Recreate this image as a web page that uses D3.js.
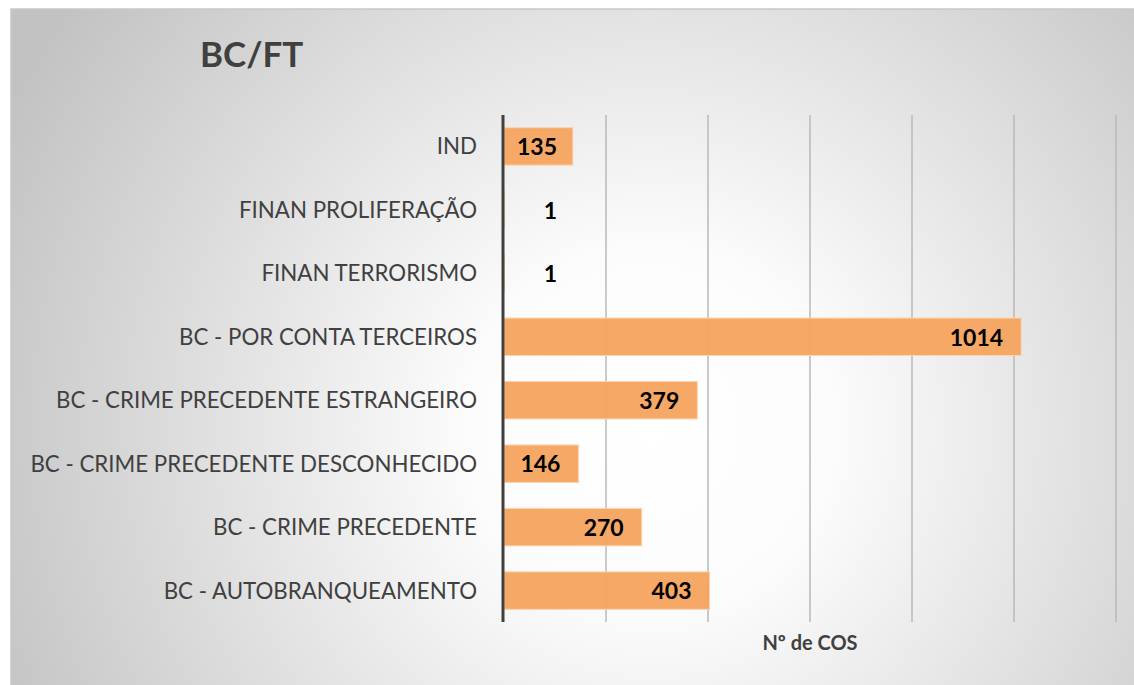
<!DOCTYPE html>
<html>
<head>
<meta charset="utf-8">
<script src="https://cdn.jsdelivr.net/npm/d3@7"></script>
<style>
  body { margin: 0; background: #fff; }
  svg { display: block; }
</style>
</head>
<body>
<div id="chart"></div>
<script>
// Chart data, top to bottom
const categories = [
    'IND',
    'FINAN PROLIFERAÇÃO',
    'FINAN TERRORISMO',
    'BC - POR CONTA TERCEIROS',
    'BC - CRIME PRECEDENTE ESTRANGEIRO',
    'BC - CRIME PRECEDENTE DESCONHECIDO',
    'BC - CRIME PRECEDENTE',
    'BC - AUTOBRANQUEAMENTO'
]
const values = [135, 1, 1, 1014, 379, 146, 270, 403]
const xTicks = [0, 200, 400, 600, 800, 1000, 1200]
const chartTitle = 'BC/FT'
const axisTitle = 'Nº de COS'

const width = 1134
const height = 685
const margin = {top: 115, right: 18, bottom: 63, left: 504}

const svg = d3.select('#chart')
    .append('svg')
    .attr('width', width)
    .attr('height', height)

// Radial background like the office chart style
const defs = svg.append('defs')
const grad = defs.append('radialGradient')
    .attr('id', 'bg')
    .attr('gradientUnits', 'userSpaceOnUse')
    .attr('cx', 650)
    .attr('cy', 430)
    .attr('r', 720)
grad.append('stop').attr('offset', '0%').attr('stop-color', '#ffffff')
grad.append('stop').attr('offset', '25%').attr('stop-color', '#fcfcfc')
grad.append('stop').attr('offset', '100%').attr('stop-color', '#c2c2c2')

svg.append('rect')
    .attr('x', 11)
    .attr('y', 9)
    .attr('width', width + 10)
    .attr('height', height + 10)
    .attr('fill', 'url(#bg)')
    .attr('stroke', '#c8c8c8')
    .attr('stroke-width', 1.5)

const x = d3.scaleLinear()
    .domain([0, 1200])
    .range([margin.left, width - margin.right])

const y = d3.scaleBand()
    .domain(categories)
    .range([margin.top, height - margin.bottom])
    .paddingInner(0.41)
    .paddingOuter(0.2)

// Vertical gridlines
svg.append('g')
    .selectAll('line')
    .data(xTicks.slice(1))
    .join('line')
    .attr('x1', d => x(d))
    .attr('x2', d => x(d))
    .attr('y1', margin.top)
    .attr('y2', height - margin.bottom)
    .attr('stroke', '#b8b8b8')
    .attr('stroke-width', 1.5)

// Bars
svg.append('g')
    .selectAll('rect')
    .data(values)
    .join('rect')
    .attr('x', x(0))
    .attr('y', (d, i) => y(categories[i]))
    .attr('width', d => x(d) - x(0))
    .attr('height', y.bandwidth())
    .attr('fill', '#f6a460')
    .attr('fill-opacity', 0.96)
    .attr('stroke', '#fbd3ae')
    .attr('stroke-width', 1)

// Value labels, inside end
svg.append('g')
    .selectAll('text')
    .data(values)
    .join('text')
    .attr('x', d => Math.max(x(d) - 18, 557))
    .attr('y', (d, i) => y(categories[i]) + y.bandwidth() / 2)
    .attr('dy', '0.38em')
    .attr('text-anchor', 'end')
    .attr('font-family', 'Lato, "Open Sans", sans-serif')
    .attr('font-weight', 'bold')
    .attr('font-size', 23)
    .attr('fill', '#000')
    .text(d => d)

// Category axis line
svg.append('line')
    .attr('x1', x(0) - 1)
    .attr('x2', x(0) - 1)
    .attr('y1', margin.top)
    .attr('y2', height - margin.bottom)
    .attr('stroke', '#404040')
    .attr('stroke-width', 3)

// Category labels
svg.append('g')
    .selectAll('text')
    .data(categories)
    .join('text')
    .attr('x', 477)
    .attr('y', d => y(d) + y.bandwidth() / 2)
    .attr('dy', '0.36em')
    .attr('text-anchor', 'end')
    .attr('font-family', 'Lato, "Open Sans", sans-serif')
    .attr('font-size', 22.3)
    .attr('fill', '#404040')
    .text(d => d)

// Titles
svg.append('text')
    .attr('x', 200)
    .attr('y', 67)
    .attr('font-family', 'Lato, "Open Sans", sans-serif')
    .attr('font-weight', 'bold')
    .attr('font-size', 35)
    .attr('fill', '#404040')
    .text(chartTitle)

svg.append('text')
    .attr('x', x(600))
    .attr('y', 650)
    .attr('text-anchor', 'middle')
    .attr('font-family', 'Lato, "Open Sans", sans-serif')
    .attr('font-weight', 'bold')
    .attr('font-size', 20)
    .attr('fill', '#404040')
    .text(axisTitle)
</script>
</body>
</html>
